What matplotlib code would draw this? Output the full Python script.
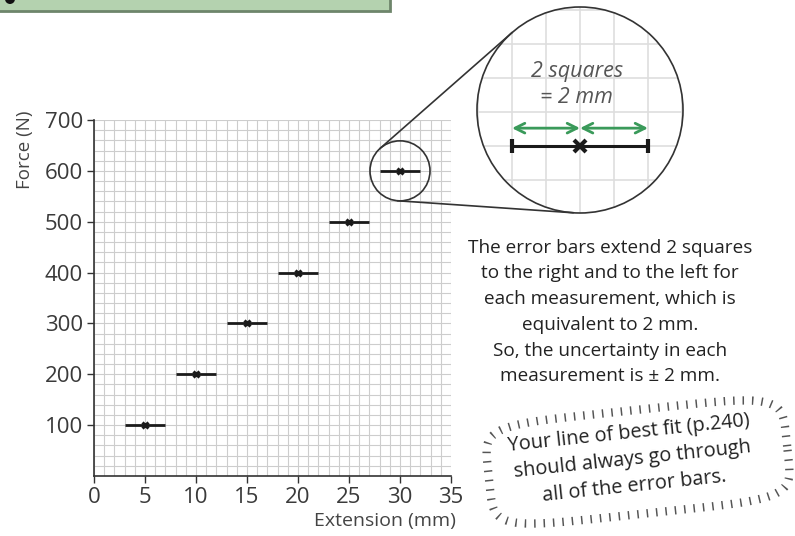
import numpy as np
import matplotlib
matplotlib.use("Agg")
import matplotlib.pyplot as plt
from matplotlib.patches import Circle, Rectangle
from matplotlib.lines import Line2D
from matplotlib.transforms import IdentityTransform, Affine2D

plt.rcParams['font.family'] = ['Open Sans', 'DejaVu Sans']

# data
extension = [5, 10, 15, 20, 25, 30]          # mm
force = [100, 200, 300, 400, 500, 600]       # N
uncertainty = 2                              # mm
x_ticks = [0, 5, 10, 15, 20, 25, 30, 35]
y_ticks = [100, 200, 300, 400, 500, 600, 700]

note_text = ("The error bars extend 2 squares\n"
             "to the right and to the left for\n"
             "each measurement, which is\n"
             "equivalent to 2 mm.\n"
             "So, the uncertainty in each\n"
             "measurement is \u00b1 2 mm.")
bubble_text = ("Your line of best fit (p.240)\n"
               "should always go through\n"
               "all of the error bars.")

W, H = 795, 536
fig = plt.figure(figsize=(W / 100, H / 100), dpi=100)

# main graph paper axes (pixel box, top-left origin)
l, t, r, b = 94, 120, 451, 476
ax = fig.add_axes([l / W, 1 - b / H, (r - l) / W, (b - t) / H])
ax.set_xlim(0, 35)
ax.set_ylim(0, 700)
for v in np.arange(0, 36, 1):
    ax.axvline(v, color='#cdcdcd', lw=0.8, zorder=0)
for v in np.arange(0, 701, 20):
    ax.axhline(v, color='#cdcdcd', lw=0.8, zorder=0)
ax.spines[['top', 'right']].set_visible(False)
ax.spines[['left', 'bottom']].set_color('#333333')
ax.spines[['left', 'bottom']].set_linewidth(1.2)
ax.set_xticks(x_ticks)
ax.set_yticks(y_ticks)
ax.tick_params(length=5, width=1, color='#333333', labelsize=16,
               labelcolor='#3a3a3a', pad=3)

ax.errorbar(extension, force, xerr=uncertainty, fmt='x', color='#1a1a1a',
            ms=5, mew=2.2, elinewidth=2, capsize=0, zorder=3)

fig.text(25 / W, 1 - 150 / H, "Force (N)", rotation=90, ha='center', va='center',
         fontsize=13.5, color='#444444')
fig.text(456 / W, 1 - 521 / H, "Extension (mm)", ha='right', va='center',
         fontsize=14, color='#444444')

# small circle around the last point
cx1, cy1 = ax.transData.transform((extension[-1], force[-1]))
r1 = 30
fig.add_artist(Circle((cx1, cy1), r1, transform=IdentityTransform(),
                      fill=False, ec='#333333', lw=1.2))

# magnified view
cx2, cy2, r2 = 580, H - 110, 103
ax2 = fig.add_axes([(cx2 - r2) / W, (cy2 - r2) / H, 2 * r2 / W, 2 * r2 / H])
sx = 34.0  # px per mm
sy = 1.7   # px per N (one square = 1 mm x 20 N)
off = 36   # point sits below the centre
ax2.set_xlim(extension[-1] - r2 / sx, extension[-1] + r2 / sx)
ax2.set_ylim(force[-1] - (r2 - off) / sy, force[-1] + (r2 + off) / sy)
ax2.set_axis_off()
clip = Circle((0.5, 0.5), 0.5, transform=ax2.transAxes, fc='white', ec='none')
ax2.add_patch(clip)
arts = []
for v in np.arange(26, 35, 1):
    arts.append(ax2.axvline(v, color='#dedede', lw=1.2, zorder=1))
for v in np.arange(520, 700, 20):
    arts.append(ax2.axhline(v, color='#dedede', lw=1.2, zorder=1))
ax2.errorbar([extension[-1]], [force[-1]], xerr=uncertainty, fmt='x',
             color='#1a1a1a', ms=8, mew=3, elinewidth=2.2, capsize=5,
             capthick=2, zorder=3)
for a in arts:
    a.set_clip_path(clip)
ya = force[-1] + 10.5
for x0, x1 in [(extension[-1], extension[-1] - uncertainty),
               (extension[-1], extension[-1] + uncertainty)]:
    ax2.annotate("", xy=(x1, ya), xytext=(x0, ya),
                 arrowprops=dict(arrowstyle='<->,head_length=0.7,head_width=0.35',
                                 color='#3a9a5a', lw=2, shrinkA=0, shrinkB=0))
ax2.text(extension[-1] - 0.1, force[-1] + 36, "2 squares\n= 2 mm", ha='center',
         va='center', style='italic', fontsize=15.5, color='#555555',
         linespacing=1.3)
fig.add_artist(Circle((cx2, cy2), r2, transform=IdentityTransform(),
                      fill=False, ec='#333333', lw=1.2))

# tangent lines between the two circles
d = np.array([cx2 - cx1, cy2 - cy1])
L = np.hypot(*d)
base = np.arctan2(d[1], d[0])
alpha = np.arccos((r1 - r2) / L)
for s in (1, -1):
    a = base + s * alpha
    n = np.array([np.cos(a), np.sin(a)])
    p1 = np.array([cx1, cy1]) + r1 * n
    p2 = np.array([cx2, cy2]) + r2 * n
    fig.add_artist(Line2D([p1[0], p2[0]], [p1[1], p2[1]],
                          transform=IdentityTransform(), color='#333333', lw=1.2))

# explanatory text
fig.text(610 / W, 1 - 312 / H, note_text, ha='center', va='center',
         fontsize=13.7, color='#222222', linespacing=1.55)

# fuzzy bubble
bx, by, bw, bh, rot = 638, H - 462, 300, 104, 6
tt = np.linspace(0, 2 * np.pi, 400)
ex = 0.5 * bw * np.sign(np.cos(tt)) * np.abs(np.cos(tt)) ** 0.35
ey = 0.5 * bh * np.sign(np.sin(tt)) * np.abs(np.sin(tt)) ** 0.35
tr = Affine2D().rotate_deg(rot).translate(bx, by)
pts = tr.transform(np.column_stack([ex, ey]))
fig.add_artist(Line2D(pts[:, 0], pts[:, 1], transform=IdentityTransform(),
                      color='#555555', lw=6, dashes=(0.18, 0.95),
                      solid_capstyle='butt', dash_capstyle='butt'))
fig.text(632 / W, 1 - 460 / H, bubble_text, ha='center', va='center',
         rotation=rot, rotation_mode='anchor', fontsize=14.3, color='#222222',
         linespacing=1.45)

# green header box cut off at the top
fig.add_artist(Rectangle((-5, H - 11), 395, 20, transform=IdentityTransform(),
                         fc='#b4d2af', ec='#6e856b', lw=2))
fig.add_artist(Circle((10, H + 1), 5, transform=IdentityTransform(), fc='#111111'))

fig.savefig("out.png", dpi=100)
